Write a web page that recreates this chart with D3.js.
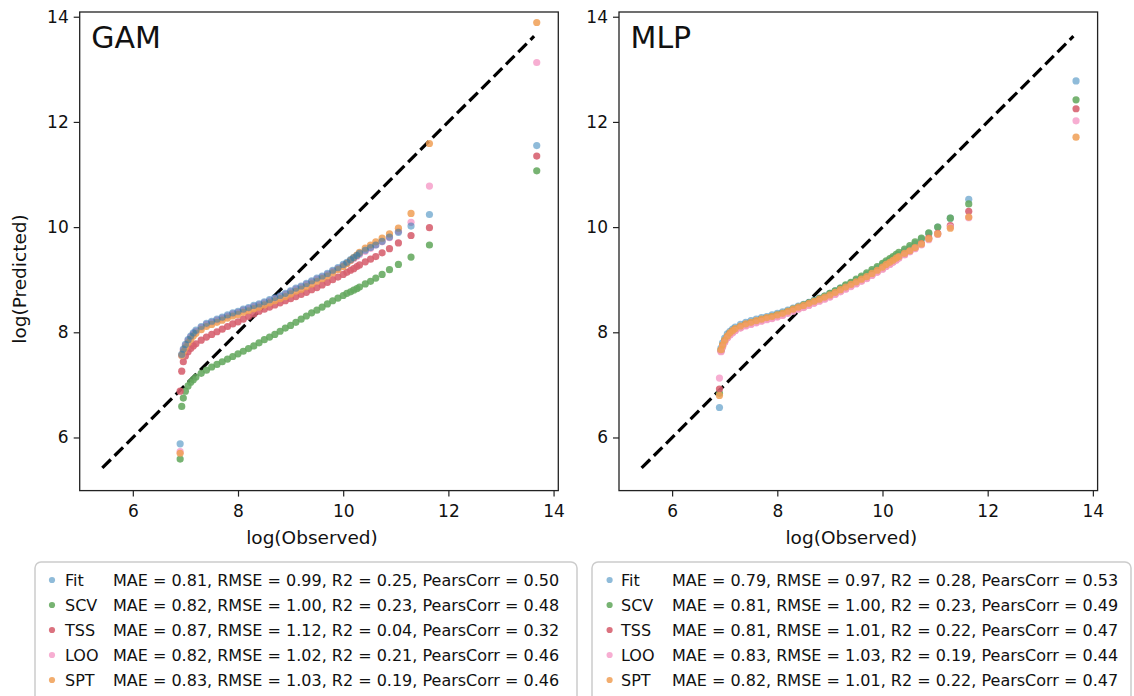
<!DOCTYPE html>
<html>
<head>
<meta charset="utf-8">
<script src="https://cdn.jsdelivr.net/npm/d3@7"></script>
<style>
  body { margin: 0; background: #fff; }
  svg text { font-family: "DejaVu Sans", sans-serif; fill: #111; }
</style>
</head>
<body>
<div id="chart"></div>
<script>
// log(Observed) values, shared by every series
var observed = [6.9, 6.93, 6.96, 7.0, 7.05, 7.1, 7.15, 7.2, 7.3, 7.4, 7.5, 7.6, 7.7, 7.8, 7.9, 8.0, 8.1, 8.2, 8.3, 8.4,
  8.5, 8.6, 8.7, 8.8, 8.9, 9.0, 9.1, 9.2, 9.3, 9.4, 9.5, 9.6, 9.7, 9.8, 9.9, 10.0, 10.07, 10.14, 10.2, 10.26,
  10.31, 10.42, 10.52, 10.62, 10.74, 10.88, 11.05, 11.29, 11.64, 13.68];

// GAM predictions
var gamFit = [5.88, 7.58, 7.68, 7.77, 7.86, 7.93, 7.99, 8.04, 8.11, 8.17, 8.21, 8.25, 8.29, 8.33, 8.37, 8.40, 8.44, 8.47, 8.51, 8.54,
  8.58, 8.62, 8.66, 8.70, 8.74, 8.79, 8.84, 8.88, 8.93, 8.98, 9.03, 9.07, 9.12, 9.18, 9.23, 9.29, 9.33, 9.38, 9.42, 9.46,
  9.50, 9.56, 9.61, 9.66, 9.73, 9.81, 9.90, 10.02, 10.24, 11.55];
var gamSCV = [5.59, 6.59, 6.75, 6.88, 6.98, 7.05, 7.10, 7.15, 7.22, 7.28, 7.34, 7.39, 7.44, 7.49, 7.54, 7.59, 7.64, 7.69, 7.74, 7.80,
  7.86, 7.91, 7.96, 8.02, 8.08, 8.13, 8.19, 8.25, 8.31, 8.37, 8.42, 8.48, 8.54, 8.60, 8.65, 8.70, 8.74, 8.77, 8.80, 8.83,
  8.86, 8.92, 8.97, 9.03, 9.10, 9.19, 9.29, 9.43, 9.66, 11.07];
var gamTSS = [6.88, 7.26, 7.44, 7.55, 7.63, 7.69, 7.74, 7.78, 7.85, 7.91, 7.96, 8.01, 8.06, 8.11, 8.16, 8.20, 8.25, 8.30, 8.35, 8.40,
  8.44, 8.48, 8.52, 8.56, 8.60, 8.64, 8.68, 8.72, 8.76, 8.81, 8.85, 8.90, 8.95, 9.00, 9.05, 9.10, 9.14, 9.18, 9.21, 9.25,
  9.28, 9.34, 9.39, 9.44, 9.51, 9.59, 9.70, 9.84, 9.99, 11.35];
var gamLOO = [5.73, 7.56, 7.66, 7.75, 7.84, 7.91, 7.97, 8.02, 8.09, 8.15, 8.19, 8.23, 8.27, 8.31, 8.35, 8.38, 8.42, 8.45, 8.49, 8.52,
  8.56, 8.60, 8.64, 8.68, 8.72, 8.77, 8.82, 8.86, 8.91, 8.96, 9.01, 9.05, 9.10, 9.16, 9.21, 9.27, 9.31, 9.36, 9.40, 9.44,
  9.48, 9.54, 9.60, 9.66, 9.72, 9.80, 9.92, 10.09, 10.78, 13.13];
var gamSPT = [5.70, 7.56, 7.63, 7.71, 7.80, 7.87, 7.93, 7.98, 8.05, 8.11, 8.15, 8.19, 8.23, 8.27, 8.31, 8.34, 8.38, 8.41, 8.45, 8.48,
  8.52, 8.56, 8.60, 8.64, 8.68, 8.73, 8.78, 8.82, 8.87, 8.92, 8.97, 9.02, 9.07, 9.13, 9.19, 9.25, 9.31, 9.37, 9.42, 9.47,
  9.52, 9.60, 9.66, 9.72, 9.79, 9.87, 9.98, 10.26, 11.59, 13.89];

// MLP predictions
var mlpFit = [6.57, 7.70, 7.80, 7.89, 7.97, 8.02, 8.06, 8.10, 8.15, 8.19, 8.22, 8.25, 8.28, 8.30, 8.33, 8.36, 8.39, 8.42, 8.46, 8.50,
  8.53, 8.57, 8.61, 8.65, 8.69, 8.74, 8.79, 8.84, 8.89, 8.94, 8.99, 9.04, 9.10, 9.16, 9.22, 9.28, 9.33, 9.37, 9.41, 9.45,
  9.48, 9.55, 9.61, 9.69, 9.77, 9.88, 10.00, 10.17, 10.53, 12.78];
var mlpSCV = [6.84, 7.66, 7.75, 7.84, 7.92, 7.98, 8.02, 8.06, 8.11, 8.15, 8.18, 8.21, 8.24, 8.27, 8.30, 8.33, 8.36, 8.40, 8.44, 8.48,
  8.52, 8.56, 8.60, 8.64, 8.69, 8.74, 8.79, 8.84, 8.90, 8.95, 9.01, 9.07, 9.13, 9.19, 9.25, 9.31, 9.36, 9.40, 9.44, 9.48,
  9.52, 9.58, 9.65, 9.72, 9.79, 9.89, 10.00, 10.17, 10.44, 12.42];
var mlpTSS = [6.92, 7.64, 7.73, 7.82, 7.90, 7.96, 8.00, 8.04, 8.09, 8.13, 8.16, 8.19, 8.22, 8.25, 8.27, 8.30, 8.33, 8.37, 8.41, 8.45,
  8.48, 8.52, 8.56, 8.60, 8.64, 8.68, 8.73, 8.78, 8.83, 8.88, 8.93, 8.98, 9.03, 9.09, 9.15, 9.21, 9.26, 9.30, 9.34, 9.38,
  9.42, 9.48, 9.54, 9.60, 9.68, 9.79, 9.88, 10.03, 10.30, 12.25];
var mlpLOO = [7.13, 7.63, 7.72, 7.81, 7.89, 7.95, 7.99, 8.03, 8.08, 8.12, 8.15, 8.18, 8.21, 8.24, 8.26, 8.29, 8.32, 8.36, 8.40, 8.44,
  8.47, 8.51, 8.55, 8.59, 8.63, 8.67, 8.72, 8.77, 8.82, 8.87, 8.92, 8.97, 9.02, 9.08, 9.14, 9.20, 9.25, 9.29, 9.33, 9.37,
  9.41, 9.47, 9.53, 9.59, 9.66, 9.76, 9.86, 10.00, 10.18, 12.02];
var mlpSPT = [6.80, 7.67, 7.76, 7.85, 7.93, 7.99, 8.03, 8.07, 8.12, 8.16, 8.19, 8.22, 8.25, 8.28, 8.30, 8.33, 8.36, 8.40, 8.44, 8.48,
  8.51, 8.55, 8.59, 8.63, 8.67, 8.71, 8.76, 8.81, 8.86, 8.91, 8.96, 9.01, 9.06, 9.12, 9.18, 9.24, 9.29, 9.33, 9.37, 9.41,
  9.44, 9.50, 9.55, 9.61, 9.68, 9.78, 9.87, 9.98, 10.19, 11.71];

var seriesNames = ["Fit", "SCV", "TSS", "LOO", "SPT"];
var gamMetrics = [
  "MAE = 0.81, RMSE = 0.99, R2 = 0.25, PearsCorr = 0.50",
  "MAE = 0.82, RMSE = 1.00, R2 = 0.23, PearsCorr = 0.48",
  "MAE = 0.87, RMSE = 1.12, R2 = 0.04, PearsCorr = 0.32",
  "MAE = 0.82, RMSE = 1.02, R2 = 0.21, PearsCorr = 0.46",
  "MAE = 0.83, RMSE = 1.03, R2 = 0.19, PearsCorr = 0.46"];
var mlpMetrics = [
  "MAE = 0.79, RMSE = 0.97, R2 = 0.28, PearsCorr = 0.53",
  "MAE = 0.81, RMSE = 1.00, R2 = 0.23, PearsCorr = 0.49",
  "MAE = 0.81, RMSE = 1.01, R2 = 0.22, PearsCorr = 0.47",
  "MAE = 0.83, RMSE = 1.03, R2 = 0.19, PearsCorr = 0.44",
  "MAE = 0.82, RMSE = 1.01, R2 = 0.22, PearsCorr = 0.47"];
var tickValues = [6, 8, 10, 12, 14];
var axisRange = [4.99, 14.09];
var diagonal = [5.42, 13.63];

// colours and opacity per series
var colors = {Fit: "#1f77b4", SCV: "#64a85e", TSS: "#d65f6d", LOO: "#f6a3cc", SPT: "#f09f55"};
var alphas = {Fit: 0.5, SCV: 0.88, TSS: 0.88, LOO: 0.88, SPT: 0.85};

var size = 478.6;

var svg = d3.select("#chart")
  .append("svg")
    .attr("width", 1134)
    .attr("height", 696);

function drawPanel(left, title, preds, order, showYLabel) {
  var g = svg.append("g")
    .attr("transform", "translate(" + left + ",12)");

  var x = d3.scaleLinear().domain(axisRange).range([0, size]);
  var y = d3.scaleLinear().domain(axisRange).range([size, 0]);

  // axes
  var xAxis = g.append("g")
    .attr("transform", "translate(0," + size + ")")
    .call(d3.axisBottom(x).tickValues(tickValues).tickSize(6).tickPadding(8).tickFormat(d3.format("d")));
  var yAxis = g.append("g")
    .call(d3.axisLeft(y).tickValues(tickValues).tickSize(6).tickPadding(5).tickFormat(d3.format("d")));
  [xAxis, yAxis].forEach(function(a) {
    a.select(".domain").remove();
    a.selectAll(".tick line").attr("stroke", "#222").attr("stroke-width", 1.2);
    a.selectAll(".tick text").style("font-size", "17px").attr("fill", "#111");
  });

  // diagonal reference
  g.append("path")
    .datum(diagonal)
    .attr("d", d3.line().x(function(d) { return x(d); }).y(function(d) { return y(d); }))
    .attr("fill", "none")
    .attr("stroke", "#000")
    .attr("stroke-width", 3.2)
    .attr("stroke-dasharray", "12,5.3");

  // scatter points
  order.forEach(function(name) {
    g.append("g")
      .selectAll("circle")
      .data(preds[name])
      .enter()
      .append("circle")
        .attr("cx", function(d, i) { return x(observed[i]); })
        .attr("cy", function(d) { return y(d); })
        .attr("r", 3.6)
        .style("fill", colors[name])
        .style("fill-opacity", alphas[name]);
  });

  // frame
  g.append("rect")
    .attr("width", size)
    .attr("height", size)
    .attr("fill", "none")
    .attr("stroke", "#222")
    .attr("stroke-width", 1.3);

  g.append("text")
    .attr("x", 11.5)
    .attr("y", 36)
    .style("font-size", "30px")
    .text(title);

  g.append("text")
    .attr("x", size / 2 - 7)
    .attr("y", 531.6)
    .attr("text-anchor", "middle")
    .style("font-size", "18.5px")
    .text("log(Observed)");

  if (showYLabel) {
    g.append("text")
      .attr("transform", "translate(" + (26.5 - left) + ",267) rotate(-90)")
      .attr("text-anchor", "middle")
      .style("font-size", "18.5px")
      .text("log(Predicted)");
  }
}

function drawLegend(boxX, boxW, markerX, nameX, metricX, metrics) {
  var lg = svg.append("g");
  lg.append("rect")
    .attr("x", boxX)
    .attr("y", 562)
    .attr("width", boxW)
    .attr("height", 150)
    .attr("rx", 6)
    .attr("fill", "#fff")
    .attr("stroke", "#cccccc")
    .attr("stroke-width", 1.5);

  seriesNames.forEach(function(name, i) {
    var cy = 580 + i * 25;
    lg.append("circle")
      .attr("cx", markerX)
      .attr("cy", cy)
      .attr("r", 3.1)
      .style("fill", colors[name])
      .style("fill-opacity", alphas[name]);
    lg.append("text")
      .attr("x", nameX)
      .attr("y", cy)
      .attr("dy", "0.36em")
      .style("font-size", "16px")
      .text(name);
    lg.append("text")
      .attr("x", metricX)
      .attr("y", cy)
      .attr("dy", "0.36em")
      .style("font-size", "16px")
      .text(metrics[i]);
  });
}

drawPanel(79.7, "GAM",
  {Fit: gamFit, SCV: gamSCV, TSS: gamTSS, LOO: gamLOO, SPT: gamSPT},
  ["SCV", "TSS", "LOO", "SPT", "Fit"], true);
drawPanel(619, "MLP",
  {Fit: mlpFit, SCV: mlpSCV, TSS: mlpTSS, LOO: mlpLOO, SPT: mlpSPT},
  ["Fit", "SCV", "TSS", "LOO", "SPT"], false);

drawLegend(35, 542, 52, 65, 113, gamMetrics);
drawLegend(592, 539, 609.6, 621, 672, mlpMetrics);
</script>
</body>
</html>
